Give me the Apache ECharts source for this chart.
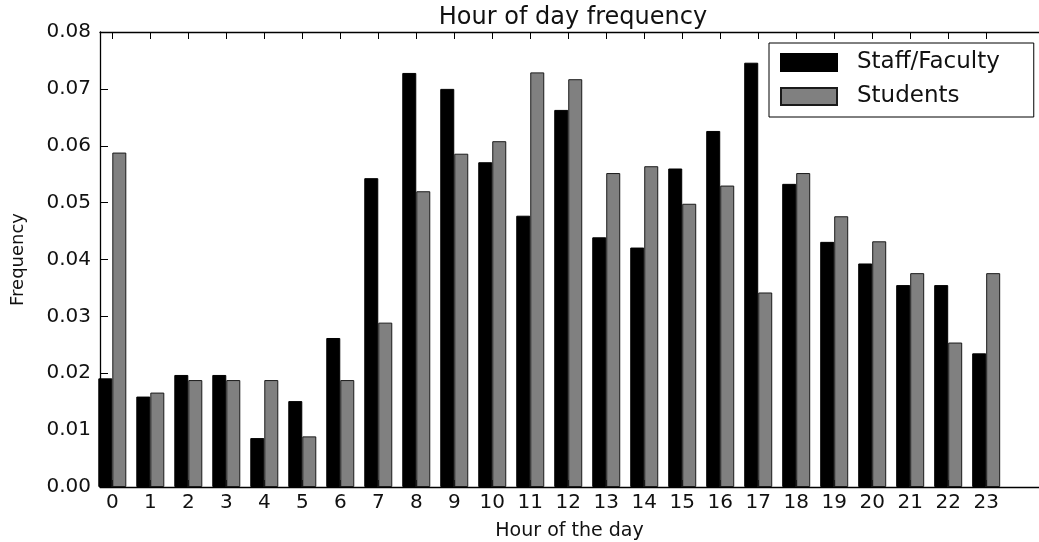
<!DOCTYPE html>
<html>
<head>
<meta charset="utf-8">
<script src="https://cdn.jsdelivr.net/npm/echarts@6/dist/echarts.min.js"></script>
<style>
html,body{margin:0;padding:0;background:#fff;}
#chart{width:1039px;height:542px;}
</style>
</head>
<body>
<div id="chart"></div>
<script>
const hours = [0,1,2,3,4,5,6,7,8,9,10,11,12,13,14,15,16,17,18,19,20,21,22,23];
const staffFaculty = [0.0191,0.0159,0.0197,0.0197,0.0086,0.0151,0.0262,0.0543,0.0728,0.0700,0.0571,0.0477,0.0663,0.0439,0.0421,0.0560,0.0626,0.0746,0.0533,0.0431,0.0393,0.0355,0.0355,0.0235];
const students = [0.0588,0.0166,0.0188,0.0188,0.0188,0.0089,0.0188,0.0289,0.0520,0.0586,0.0608,0.0729,0.0717,0.0552,0.0564,0.0498,0.0530,0.0342,0.0552,0.0476,0.0432,0.0376,0.0254,0.0376];
const seriesNames = ['Staff/Faculty','Students'];
const hourTicks = hours.slice();

const FONT = 'DejaVu Sans';
const TXT = '#111';

const chart = echarts.init(document.getElementById('chart'), null, {renderer:'canvas'});

const xCommon = {
  type:'value', min:-0.324, max:24.39,
  splitLine:{show:false},
  axisLine:{show:true, onZero:false, lineStyle:{color:'#000', width:1.3}},
  axisTick:{show:true, inside:true, length:7, customValues:hourTicks, lineStyle:{color:'#000', width:1}}
};

chart.setOption({
  animation:false,
  backgroundColor:'#fff',
  title:{
    text:'Hour of day frequency',
    left:573, top:6, padding:0, textAlign:'center',
    textStyle:{fontFamily:FONT, fontSize:24, fontWeight:'normal', color:TXT}
  },
  legend:{
    orient:'vertical', left:769, top:43,
    padding:[8,34,9,11],
    itemWidth:56, itemHeight:17, itemGap:11,
    borderColor:'#000', borderWidth:1, borderRadius:0,
    backgroundColor:'#fff',
    textStyle:{fontFamily:FONT, fontSize:23, color:TXT, padding:[0,0,0,15]},
    data:seriesNames.map(n=>({name:n, icon:'rect'}))
  },
  grid:{left:100, right:0, top:32, bottom:55, containLabel:false, outerBoundsMode:'none'},
  xAxis:[
    Object.assign({}, xCommon, {
      position:'bottom',
      name:'Hour of the day', nameLocation:'middle', nameGap:35,
      nameTextStyle:{fontFamily:FONT, fontSize:19, color:TXT},
      axisLabel:{show:true, customValues:hourTicks, margin:6, fontFamily:FONT, fontSize:20, color:TXT, formatter:v=>String(v)}
    }),
    Object.assign({}, xCommon, {
      position:'top',
      axisLabel:{show:false}
    })
  ],
  yAxis:{
    type:'value', min:0, max:0.08, interval:0.01,
    splitLine:{show:false},
    axisLine:{show:true, onZero:false, lineStyle:{color:'#000', width:1.3}},
    axisTick:{show:true, inside:true, length:8, lineStyle:{color:'#000', width:1}},
    axisLabel:{margin:9, fontFamily:FONT, fontSize:20, color:TXT, formatter:v=>v.toFixed(2)},
    name:'Frequency', nameLocation:'middle', nameGap:73, nameRotate:90,
    nameTextStyle:{fontFamily:FONT, fontSize:18, color:TXT}
  },
  series:[
    {
      name:seriesNames[0], type:'bar', xAxisIndex:0, clip:true,
      barWidth:14, barGap:'0%',
      itemStyle:{color:'#000', borderColor:'#000', borderWidth:1},
      data:hours.map((h,i)=>[h, staffFaculty[i]])
    },
    {
      name:seriesNames[1], type:'bar', xAxisIndex:0, clip:true,
      barWidth:14, barGap:'0%',
      itemStyle:{color:'#808080', borderColor:'#1a1a1a', borderWidth:1},
      data:hours.map((h,i)=>[h, students[i]])
    }
  ]
});
</script>
</body>
</html>
